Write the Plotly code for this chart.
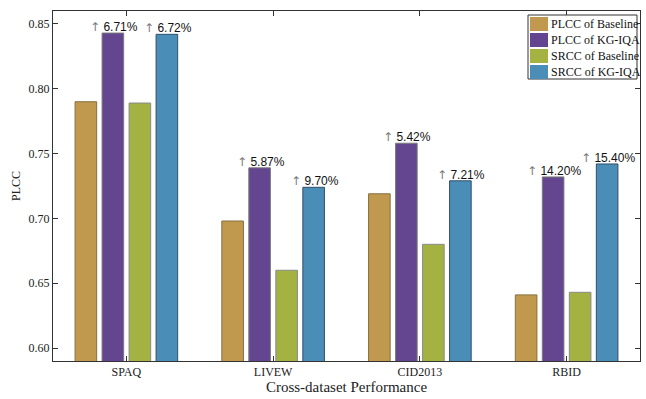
import plotly.graph_objects as go

# Cross-dataset results
datasets = ["SPAQ", "LIVEW", "CID2013", "RBID"]
series_names = ["PLCC of Baseline", "PLCC of KG-IQA", "SRCC of Baseline", "SRCC of KG-IQA"]
plcc_baseline = [0.790, 0.698, 0.719, 0.641]
plcc_kgiqa = [0.843, 0.739, 0.758, 0.732]
srcc_baseline = [0.789, 0.660, 0.680, 0.643]
srcc_kgiqa = [0.842, 0.724, 0.729, 0.742]
plcc_gain = ["6.71%", "5.87%", "5.42%", "14.20%"]
srcc_gain = ["6.72%", "9.70%", "7.21%", "15.40%"]
y_ticks = [0.60, 0.65, 0.70, 0.75, 0.80, 0.85]

colors = ["#C0984E", "#63468F", "#A3B240", "#4A8DB7"]
edge = ["#86703f", "#7a7a7a", "#8a8a8a", "#2f4f6a"]

SERIF = "Times New Roman, Liberation Serif, Tinos, serif"
SANS = "Arial, Liberation Sans, sans-serif"

W, H = 646, 399
ML, MR, MT, MB = 53, 6, 11, 38
BARGAP = 0.264
N = 4
slot = (1 - BARGAP) / N

x = list(range(len(datasets)))
values = [plcc_baseline, plcc_kgiqa, srcc_baseline, srcc_kgiqa]

fig = go.Figure()
for k, (name, vals) in enumerate(zip(series_names, values)):
    fig.add_trace(go.Bar(
        x=x, y=vals, name=name,
        marker=dict(color=colors[k], line=dict(color=edge[k], width=1)),
        showlegend=False,
    ))

# improvement labels above the KG-IQA bars
arrow = "<span style='font-family:DejaVu Sans;font-size:12px;color:#7a7a7a'>↑</span> "
annotations = []
for k, gains in ((1, plcc_gain), (3, srcc_gain)):
    for i, g in enumerate(gains):
        xpos = i + (k - (N - 1) / 2) * slot
        annotations.append(dict(
            x=xpos, y=values[k][i], xref="x", yref="y",
            text=arrow + g,
            showarrow=False, xanchor="center", yanchor="bottom",
            xshift=1, yshift=-3,
            font=dict(family=SANS, size=12, color="#111"),
        ))

# legend drawn as a boxed key in the upper right corner
def px_x(p):
    return (p - ML) / (W - ML - MR)

def px_y(p):
    return (H - MB - p) / (H - MT - MB)

shapes = [dict(type="rect", xref="paper", yref="paper",
               x0=px_x(528), x1=px_x(637), y0=px_y(79), y1=px_y(15),
               line=dict(color="#333", width=1), fillcolor="white", layer="above")]
row_h = 16
for k, name in enumerate(series_names):
    top = 16 + k * row_h
    shapes.append(dict(type="rect", xref="paper", yref="paper",
                       x0=px_x(530), x1=px_x(548), y0=px_y(top + row_h - 1), y1=px_y(top + 1),
                       line=dict(width=0), fillcolor=colors[k], layer="above"))
    annotations.append(dict(
        x=px_x(549), y=px_y(top + row_h / 2), xref="paper", yref="paper",
        text=name, showarrow=False, xanchor="left", yanchor="middle",
        font=dict(family=SERIF, size=12, color="#111"),
    ))

axis_font = dict(family=SERIF, size=12, color="#222")
fig.update_layout(
    width=W, height=H,
    margin=dict(l=ML, r=MR, t=MT, b=MB),
    paper_bgcolor="white", plot_bgcolor="white",
    barmode="group", bargap=BARGAP, bargroupgap=0.2,
    annotations=annotations, shapes=shapes,
    xaxis=dict(
        range=[-0.5, 3.5], tickvals=x, ticktext=datasets,
        ticks="inside", ticklen=5, tickcolor="#333",
        showline=True, linecolor="#333", linewidth=1, mirror="ticks",
        showgrid=False, zeroline=False, tickfont=axis_font,
        title=dict(text="Cross-dataset Performance", standoff=3,
                   font=dict(family=SERIF, size=15, color="#222")),
    ),
    yaxis=dict(
        range=[0.59, 0.86], tickvals=y_ticks, tickformat=".2f",
        ticks="inside", ticklen=5, tickcolor="#333",
        showline=True, linecolor="#333", linewidth=1, mirror="ticks",
        showgrid=False, zeroline=False, tickfont=axis_font,
        title=dict(text="PLCC", standoff=5,
                   font=dict(family=SERIF, size=12, color="#222")),
    ),
)

fig.write_html("out.html")
